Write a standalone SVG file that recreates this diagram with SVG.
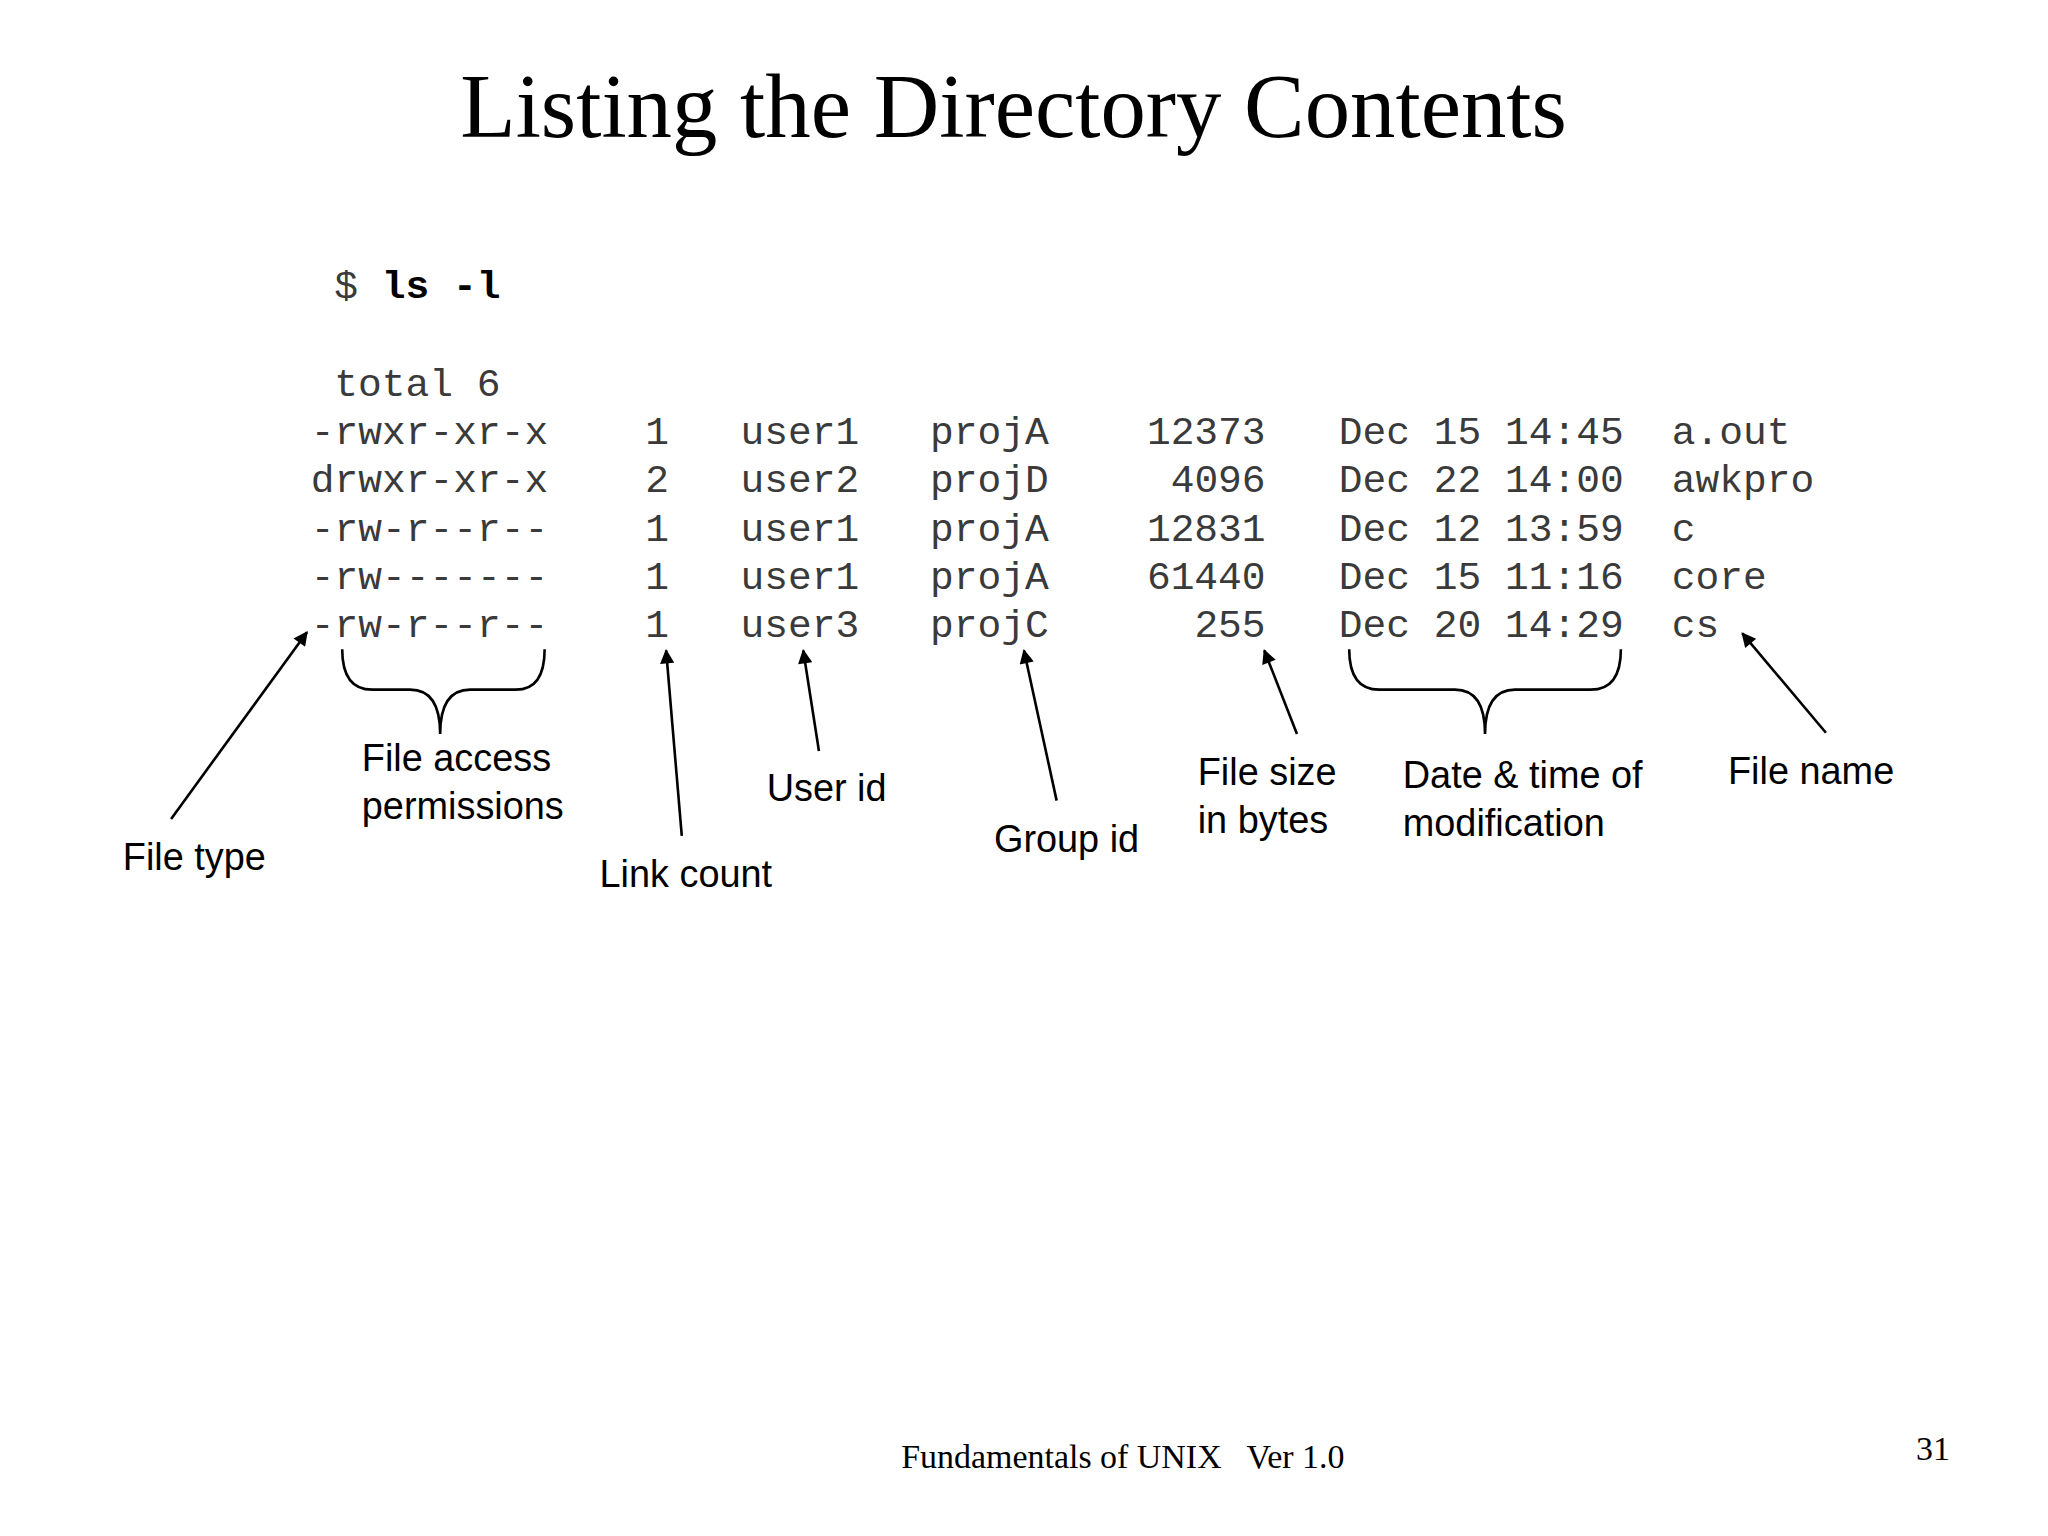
<svg xmlns="http://www.w3.org/2000/svg" width="2048" height="1536" viewBox="0 0 2048 1536">
<style>
.m{font-family:"Liberation Mono",monospace;font-size:30.3px;fill:#3a3a3a}
.l{font-family:"Liberation Sans",Arial,sans-serif;font-size:29px;fill:#000}
.t{font-family:"Liberation Serif","Times New Roman",serif;fill:#000}
.c{stroke:#000;stroke-width:2;fill:none}
</style>
<defs><marker id="a" viewBox="0 0 10 10" refX="9" refY="5" markerWidth="13" markerHeight="11" orient="auto" markerUnits="userSpaceOnUse"><path d="M0,0 L10,5 L0,10 z" fill="#000"/></marker></defs>
<rect width="2048" height="1536" fill="#fff"/>
<g transform="scale(1.3061)">
<text class="t" x="776" y="105" font-size="69.5" text-anchor="middle">Listing the Directory Contents</text>
<g id="listing" class="m">
<text x="256" y="228" xml:space="preserve">$ <tspan font-weight="bold" fill="#000">ls -l</tspan></text>
<text x="256" y="303">total 6</text>
<g>
<text x="238" y="340">-rwxr-xr-x</text><text x="238" y="377">drwxr-xr-x</text><text x="238" y="414">-rw-r--r--</text><text x="238" y="451">-rw-------</text><text x="238" y="488">-rw-r--r--</text>
<text x="494" y="340">1</text><text x="494" y="377">2</text><text x="494" y="414">1</text><text x="494" y="451">1</text><text x="494" y="488">1</text>
<text x="567" y="340">user1</text><text x="567" y="377">user2</text><text x="567" y="414">user1</text><text x="567" y="451">user1</text><text x="567" y="488">user3</text>
<text x="712" y="340">projA</text><text x="712" y="377">projD</text><text x="712" y="414">projA</text><text x="712" y="451">projA</text><text x="712" y="488">projC</text>
<g text-anchor="end"><text x="969" y="340">12373</text><text x="969" y="377">4096</text><text x="969" y="414">12831</text><text x="969" y="451">61440</text><text x="969" y="488">255</text></g>
<text x="1025" y="340">Dec 15 14:45</text><text x="1025" y="377">Dec 22 14:00</text><text x="1025" y="414">Dec 12 13:59</text><text x="1025" y="451">Dec 15 11:16</text><text x="1025" y="488">Dec 20 14:29</text>
<text x="1280" y="340">a.out</text><text x="1280" y="377">awkpro</text><text x="1280" y="414">c</text><text x="1280" y="451">core</text><text x="1280" y="488">cs</text>
</g>
</g>
<g id="labels" class="l">
<text x="277" y="590">File access</text><text x="277" y="627">permissions</text>
<text x="587" y="613">User id</text>
<text x="94" y="666">File type</text>
<text x="459" y="679">Link count</text>
<text x="761" y="652">Group id</text>
<text x="917" y="601">File size</text><text x="917" y="638">in bytes</text>
<text x="1074" y="603">Date &amp; time of</text><text x="1074" y="640">modification</text>
<text x="1323" y="600">File name</text>
</g>
<g id="connectors" class="c">
<line x1="131" y1="627" x2="235" y2="484" marker-end="url(#a)"/>
<line x1="522" y1="640" x2="510" y2="498" marker-end="url(#a)"/>
<line x1="627" y1="575" x2="615" y2="498" marker-end="url(#a)"/>
<line x1="809" y1="613" x2="784" y2="498" marker-end="url(#a)"/>
<line x1="993" y1="562" x2="968" y2="498" marker-end="url(#a)"/>
<line x1="1398" y1="561" x2="1334" y2="485" marker-end="url(#a)"/>
<path d="M262,497 Q262,528 285,528 L314,528 Q337,528 337,562 Q337,528 360,528 L395,528 Q417,528 417,497"/>
<path d="M1033,497 Q1033,528 1056,528 L1114,528 Q1137,528 1137,562 Q1137,528 1160,528 L1218,528 Q1241,528 1241,497"/>
</g>
<text class="t" x="690" y="1124" font-size="26" xml:space="preserve">Fundamentals of UNIX   Ver 1.0</text>
<text class="t" x="1467" y="1118" font-size="26">31</text>
</g>
</svg>
